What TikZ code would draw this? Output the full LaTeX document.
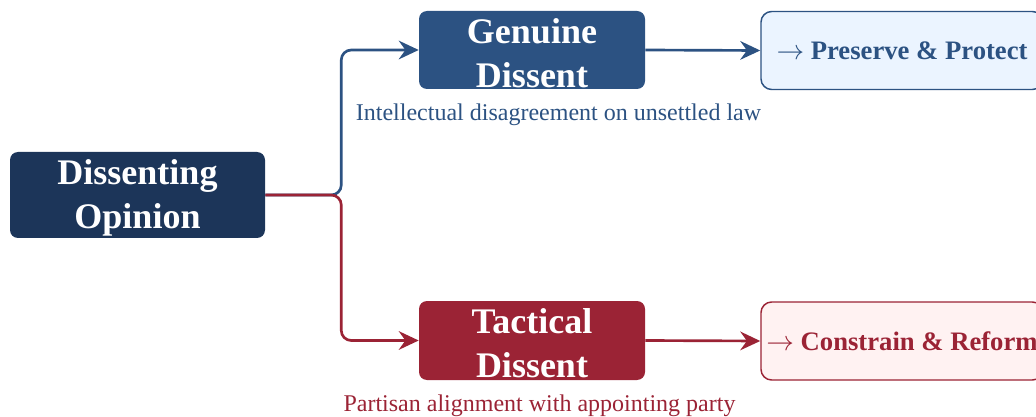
\documentclass[tikz,border=0pt]{standalone}
\usepackage{fontspec}
\setmainfont{Liberation Serif}
\usetikzlibrary{arrows.meta,positioning}
\definecolor{navy}{HTML}{1C3559}
\definecolor{genuineblue}{HTML}{2C5282}
\definecolor{tacticalred}{HTML}{9B2335}
\definecolor{lightblue}{HTML}{EBF4FF}
\definecolor{lightred}{HTML}{FFF2F2}
\newcommand{\topstrut}{\rule{0pt}{23pt}}

\begin{document}
\begin{tikzpicture}[x=0.75pt, y=-0.75pt,
    mainbox/.style={rectangle, rounded corners=6pt, inner sep=0pt, align=center,
        text=white, font=\fontsize{27}{33}\selectfont\bfseries},
    outbox/.style={rectangle, rounded corners=8pt, line width=1.1pt, inner sep=0pt,
        minimum width=211.5pt, minimum height=58.5pt, align=center,
        font=\fontsize{20}{24}\selectfont\bfseries},
    note/.style={font=\fontsize{18}{22}\selectfont},
    link/.style={line width=2pt, rounded corners=7.5pt, -{Stealth[length=15pt, width=14pt, inset=5pt]}},
]

\useasboundingbox (0,0) rectangle (1036,417);
\clip (0,0) rectangle (1036,417);

% Source
\node[mainbox, fill=navy, minimum width=191.25pt, minimum height=64.5pt] (dissent) at (137.5,195) {\topstrut Dissenting\\Opinion};

% Two kinds of dissent
\node[mainbox, fill=genuineblue, minimum width=169.5pt, minimum height=58.5pt] (genuine) at (532,50) {\topstrut Genuine\\Dissent};
\node[mainbox, fill=tacticalred, minimum width=169.5pt, minimum height=59.25pt] (tactical) at (532,340.5) {\topstrut Tactical\\Dissent};

\node[note, text=genuineblue] (genuinenote) at (558.5,114.5) {Intellectual disagreement on unsettled law};
\node[note, text=tacticalred] (tacticalnote) at (539.5,405.5) {Partisan alignment with appointing party};

% Outcomes
\node[outbox, fill=lightblue, draw=genuineblue, text=genuineblue] (preserve) at (902,50.5) {$\rightarrow$ Preserve \& Protect};
\node[outbox, fill=lightred, draw=tacticalred, text=tacticalred] (constrain) at (902,341) {$\rightarrow$ Constrain \& Reform};

% Connectors
\draw[link, genuineblue] (dissent.east) -- ++(76,0) |- (genuine.west);
\draw[link, tacticalred] (dissent.east) -- ++(76,0) |- (tactical.west);
\draw[link, genuineblue] (genuine.east) -- (preserve.west);
\draw[link, tacticalred] (tactical.east) -- (constrain.west);

\end{tikzpicture}
\end{document}
